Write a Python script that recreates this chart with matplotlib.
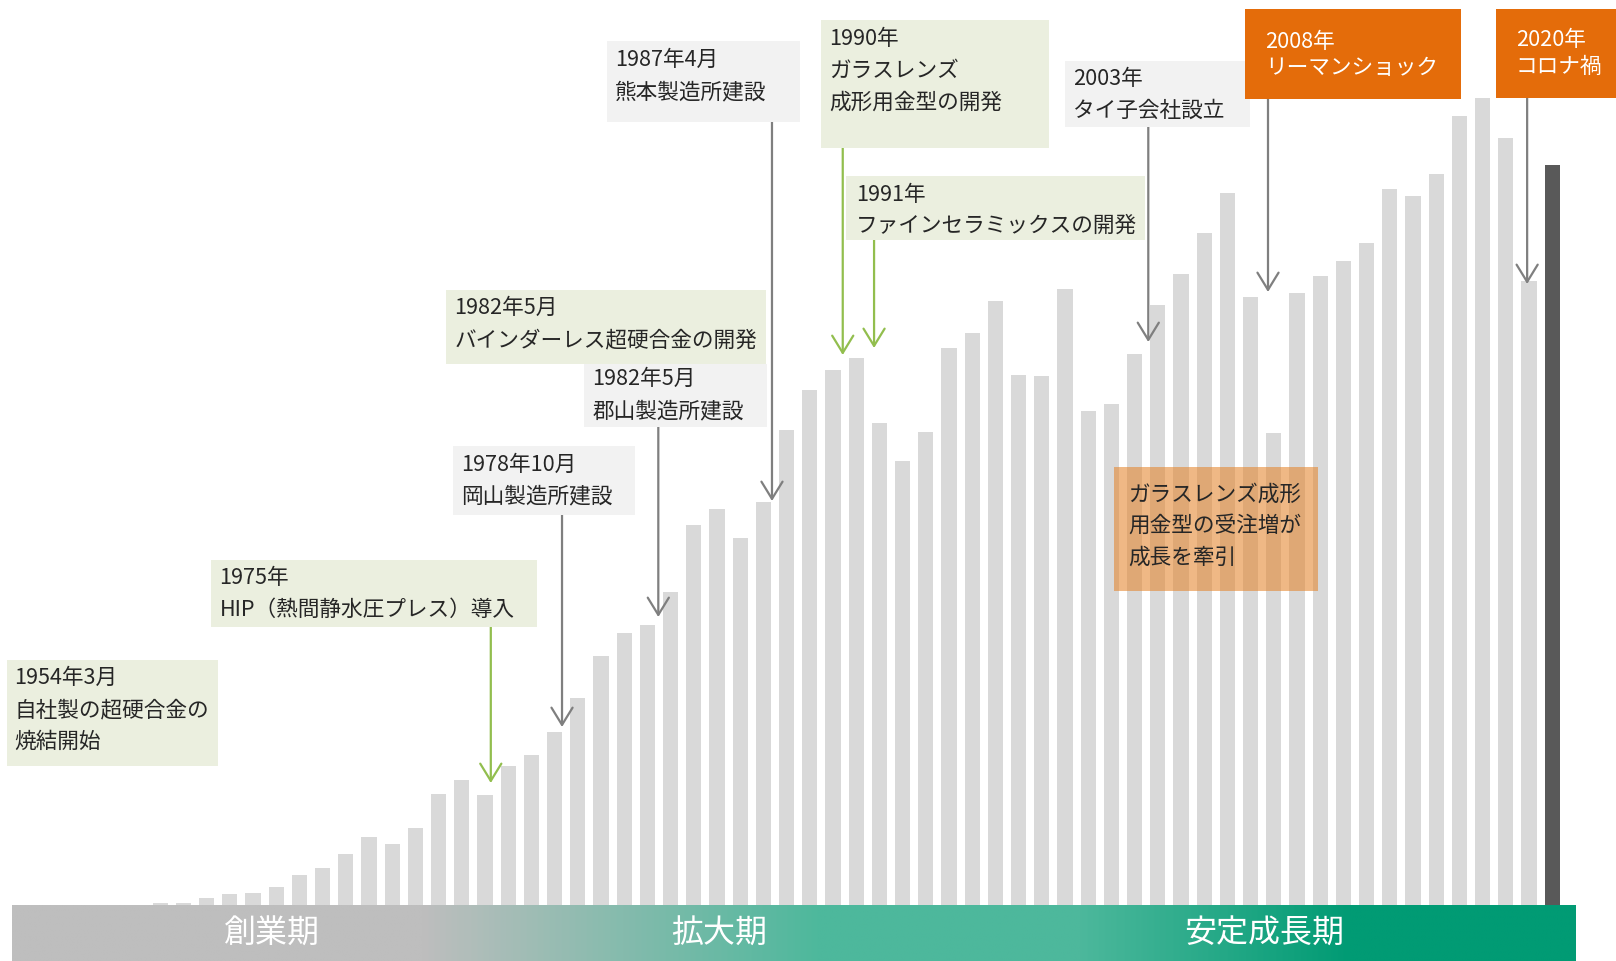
import matplotlib
matplotlib.use("Agg")
import matplotlib.pyplot as plt
from matplotlib.patches import Rectangle
from matplotlib.colors import LinearSegmentedColormap
import numpy as np

plt.rcParams['font.family'] = ['Noto Sans CJK JP', 'DejaVu Sans']

# ---- data -------------------------------------------------------------
years = list(range(1961, 2022))
sales = [2, 2, 7, 11, 12, 18, 30, 37, 51, 68,
         61, 77, 111, 125, 110, 139, 150, 173, 207, 249,
         272, 280, 313, 380, 396, 367, 403, 475, 515, 535,
         547, 482, 444, 473, 557, 572, 604, 530, 529, 616,
         494, 501, 551, 600, 631, 672, 712, 608, 472, 612,
         629, 644, 662, 716, 709, 731, 789, 807, 767, 624,
         740]
latest_year = 2021

phase_labels = ['創業期', '拡大期', '安定成長期']
phase_centers = [1965.8, 1985.1, 2008.6]

# milestone texts
event_texts = [
    ['1954年3月', '自社製の超硬合金の', '焼結開始'],
    ['1975年', 'HIP（熱間静水圧プレス）導入'],
    ['1978年10月', '岡山製造所建設'],
    ['1982年5月', '郡山製造所建設'],
    ['1982年5月', 'バインダーレス超硬合金の開発'],
    ['1987年4月', '熊本製造所建設'],
    ['1990年', 'ガラスレンズ', '成形用金型の開発'],
    ['1991年', 'ファインセラミックスの開発'],
    ['2003年', 'タイ子会社設立'],
    ['2008年', 'リーマンショック'],
    ['2020年', 'コロナ禍'],
]
event_kind = ['tech', 'tech', 'plant', 'plant', 'tech', 'plant',
              'tech', 'tech', 'plant', 'shock', 'shock']
# arrow: (x in years, value at arrow tip); None = no arrow
event_arrows = [None, (1975.25, 122), (1978.32, 178), (1982.47, 288), None,
                (1987.37, 404), (1990.42, 550), (1991.77, 557),
                (2003.59, 563), (2008.75, 613), (2019.92, 621)]

note_text = ['ガラスレンズ成形', '用金型の受注増が', '成長を牽引']

# ---- layout (pixel grid of the 1616 x 961 canvas) ---------------------
W, H = 1616, 961
X0, STEP, BASE = 160.2, 23.2, 905


def dx(px):
    return years[0] + (px - X0) / STEP


def dy(py):
    return BASE - py


# box rectangles: left, top, right, bottom ; text x ; line centres
event_boxes = [
    (7, 660, 217.5, 765.5, 14.5, [675, 707, 739]),
    (211, 560, 536.5, 627, 219.5, [575, 607]),
    (453, 446, 635, 515, 461.5, [462, 493]),
    (584, 363.5, 767, 426.5, 592.5, [376, 408]),
    (446, 290, 766, 363.5, 454.5, [305, 337]),
    (607, 41, 800, 122, 615, [57, 89]),
    (821, 20, 1048.5, 147.5, 829.5, [36, 68, 100]),
    (846, 176, 1145, 240, 856, [192, 223]),
    (1065, 61, 1250, 127, 1073, [76, 108]),
    (1245, 9, 1461, 98.5, 1265.5, [39, 65]),
    (1496, 9, 1616, 98, 1516, [37, 64]),
]
note_box = (1114, 467, 1318, 591, 1128.5, [492, 523, 555])
TEXT_DROP = 3  # baseline nudge for the CJK font

box_face = {'tech': '#EBEFDF', 'plant': '#F2F2F2', 'shock': '#E46C0A'}
text_col = {'tech': '#262626', 'plant': '#262626', 'shock': 'white'}
arrow_col = {'tech': '#92BE4E', 'plant': '#7F7F7F', 'shock': '#7F7F7F'}

BAR_GRAY = '#D9D9D9'
BAR_DARK = '#595959'
FS = 15.6

fig = plt.figure(figsize=(W / 100, H / 100), dpi=100)
ax = fig.add_axes([0, 0, 1, 1])
ax.set_axis_off()

# ---- bars --------------------------------------------------------------
colors = [BAR_DARK if y == latest_year else BAR_GRAY for y in years]
ax.bar(years, sales, width=0.65, color=colors, zorder=2)

# ---- phase band with colour gradient -----------------------------------
stops = [(12, '#BEBEBE'), (420, '#BEBEBE'), (820, '#4DB89C'),
         (1080, '#4DB89C'), (1350, '#019B74'), (1575, '#019B74')]
span = stops[-1][0] - stops[0][0]
cmap = LinearSegmentedColormap.from_list(
    'phase', [((p - stops[0][0]) / span, c) for p, c in stops])
grad = np.linspace(0, 1, 800)[None, :]
ax.imshow(grad, cmap=cmap, aspect='auto', zorder=3,
          extent=(dx(12), dx(1575), dy(961), dy(905)), interpolation='bilinear')
for lab, xc in zip(phase_labels, phase_centers):
    ax.text(xc, dy(934), lab, color='white', fontsize=23,
            ha='center', va='center', zorder=4)

# ---- milestone boxes and arrows -----------------------------------------
for texts, kind, box, arr in zip(event_texts, event_kind, event_boxes, event_arrows):
    l, t, r, b, tx, lines = box
    ax.add_patch(Rectangle((dx(l), dy(b)), dx(r) - dx(l), dy(t) - dy(b),
                           facecolor=box_face[kind], edgecolor='none', zorder=5))
    for s, ly in zip(texts, lines):
        ax.text(dx(tx), dy(ly + TEXT_DROP), s, fontsize=FS, color=text_col[kind],
                ha='left', va='center', zorder=6)
    if arr is not None:
        ax_x, tip = arr
        ax.annotate('', xy=(ax_x, tip), xytext=(ax_x, dy(b)),
                    arrowprops=dict(arrowstyle='->,head_length=0.62,head_width=0.38',
                                    color=arrow_col[kind], lw=1.6,
                                    shrinkA=0, shrinkB=0, mutation_scale=20),
                    zorder=4)

# ---- translucent note --------------------------------------------------
l, t, r, b, tx, lines = note_box
ax.add_patch(Rectangle((dx(l), dy(b)), dx(r) - dx(l), dy(t) - dy(b),
                       facecolor=(229 / 255, 134 / 255, 46 / 255), alpha=0.58,
                       edgecolor='none', zorder=5))
for s, ly in zip(note_text, lines):
    ax.text(dx(tx), dy(ly + TEXT_DROP), s, fontsize=FS, color='#262626',
            ha='left', va='center', zorder=6)

ax.set_xlim(dx(0), dx(W))
ax.set_ylim(dy(H), dy(0))

fig.savefig('out.png', dpi=100, facecolor='white')
